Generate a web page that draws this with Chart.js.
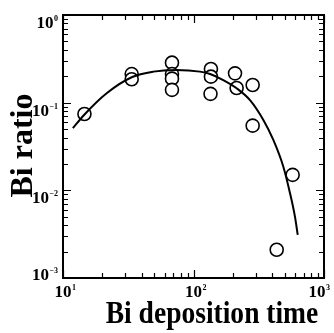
<!DOCTYPE html>
<html>
<head>
<meta charset="utf-8">
<script src="https://cdn.jsdelivr.net/npm/chart.js@4"></script>
<style>
  html, body { margin: 0; padding: 0; background: #fff; }
  canvas { display: block; }
</style>
</head>
<body>
<canvas id="my-chart" width="334" height="333"></canvas>
<script>
'use strict';

//***********Data***********
let depositionTime = [14.6, 33.6, 33.6, 68.4, 68.4, 68.4, 68.4, 136, 136, 135, 208, 214, 284, 284, 575, 434];
let biRatio = [0.0743, 0.212, 0.185, 0.286, 0.212, 0.188, 0.140, 0.242, 0.198, 0.126, 0.216, 0.147, 0.159, 0.0547, 0.015, 0.0021];

// fitted curve drawn through the points
let fitTime = [11.9, 14.5, 21.6, 33.6, 49.2, 73.4, 112, 134, 169, 214, 271, 343, 409, 488, 549, 599, 629];
let fitRatio = [0.0511, 0.0724, 0.128, 0.195, 0.226, 0.236, 0.226, 0.212, 0.181, 0.146, 0.107, 0.0635, 0.0376, 0.0186, 0.00927, 0.00501, 0.0031];

// tick labels: value and the exponent printed after "10"
let xTickValues = [10, 100, 1000];
let xTickExps = ['1', '2', '3'];
let yTickValues = [1, 0.1, 0.01, 0.001];
let yTickExps = ['0', '\u22121', '\u22122', '\u22123'];

let customerChart = document.getElementById('my-chart');
let serif = '"Liberation Serif", "Times New Roman", serif';

function toPoints(xs, ys) {
  let pts = [];
  for (let i = 0; i < xs.length; i++) {
    pts.push({ x: xs[i], y: ys[i] });
  }
  return pts;
}

// draws "10" with a small exponent, x is the left edge
function drawPower(ctx, exp, x, baseline) {
  ctx.font = 'bold 17px ' + serif;
  ctx.textAlign = 'left';
  ctx.textBaseline = 'alphabetic';
  ctx.fillText('10', x, baseline);
  let w = ctx.measureText('10').width;
  ctx.font = 'bold 8px ' + serif;
  ctx.fillText(exp, x + w + 0.5, baseline - 7);
}

function powerWidth(ctx, exp) {
  ctx.font = 'bold 17px ' + serif;
  let w = ctx.measureText('10').width;
  ctx.font = 'bold 8px ' + serif;
  return { digits: w, total: w + 0.5 + ctx.measureText(exp).width };
}

// frame with inward log ticks on all four sides, tick labels and axis titles
let frameAndLabels = {
  id: 'frameAndLabels',
  afterDraw(chart) {
    let ctx = chart.ctx;
    let area = chart.chartArea;
    let xs = chart.scales.x;
    let ys = chart.scales.y;
    ctx.save();
    ctx.strokeStyle = '#000';
    ctx.fillStyle = '#000';

    ctx.lineWidth = 1.2;
    ctx.beginPath();
    for (let d = 1; d <= 3; d++) {
      for (let m = 1; m <= 9; m++) {
        let v = m * Math.pow(10, d);
        if (v > xs.max) break;
        let px = Math.round(xs.getPixelForValue(v)) + 0.5;
        let len = m === 1 ? 8 : 5;
        ctx.moveTo(px, area.bottom);
        ctx.lineTo(px, area.bottom - len);
        ctx.moveTo(px, area.top);
        ctx.lineTo(px, area.top + len);
      }
    }
    for (let d = -3; d <= 0; d++) {
      for (let m = 1; m <= 9; m++) {
        let v = m * Math.pow(10, d);
        if (v > ys.max) break;
        let py = Math.round(ys.getPixelForValue(v)) + 0.5;
        let len = m === 1 ? 8 : 5;
        ctx.moveTo(area.left, py);
        ctx.lineTo(area.left + len, py);
        ctx.moveTo(area.right, py);
        ctx.lineTo(area.right - len, py);
      }
    }
    ctx.stroke();

    ctx.lineWidth = 2;
    ctx.strokeRect(area.left, area.top, area.right - area.left, area.bottom - area.top);

    // x tick labels
    for (let i = 0; i < xTickValues.length; i++) {
      let px = xs.getPixelForValue(xTickValues[i]);
      let w = powerWidth(ctx, xTickExps[i]);
      let left = px - w.digits / 2;
      if (left + w.total > 330) left = 330 - w.total;
      drawPower(ctx, xTickExps[i], left, 297);
    }
    // y tick labels
    for (let i = 0; i < yTickValues.length; i++) {
      let py = ys.getPixelForValue(yTickValues[i]) + 7;
      if (py > area.bottom - 4) py = area.bottom - 4;
      let w = powerWidth(ctx, yTickExps[i]);
      drawPower(ctx, yTickExps[i], 58 - w.total, py + 6);
    }

    // axis titles (the x title is a bit condensed in the original)
    ctx.font = 'bold 32px ' + serif;
    ctx.textAlign = 'center';
    ctx.textBaseline = 'alphabetic';
    ctx.save();
    ctx.translate(212, 323);
    ctx.scale(0.86, 1);
    ctx.fillText('Bi deposition time', 0, 0);
    ctx.restore();
    ctx.translate(32, 145.5);
    ctx.rotate(-Math.PI / 2);
    ctx.fillText('Bi ratio', 0, 0);
    ctx.restore();
  }
};

function renderChart() {
  let myChartObj = {
    type: 'scatter',
    data: {
      datasets: [
        {
          label: 'fit',
          data: toPoints(fitTime, fitRatio),
          showLine: true,
          borderColor: '#000',
          borderWidth: 2,
          pointRadius: 0,
          tension: 0.4,
          cubicInterpolationMode: 'monotone'
        },
        {
          label: 'Bi ratio',
          data: toPoints(depositionTime, biRatio),
          showLine: false,
          pointStyle: 'circle',
          pointRadius: 6.5,
          pointBackgroundColor: '#fff',
          pointBorderColor: '#000',
          pointBorderWidth: 1.6
        }
      ]
    },
    options: {
      responsive: false,
      animation: false,
      events: [],
      layout: { padding: { top: 15, right: 10, left: 0, bottom: 0 } },
      plugins: {
        legend: { display: false },
        tooltip: { enabled: false }
      },
      scales: {
        x: {
          type: 'logarithmic',
          min: 10,
          max: 1000,
          grid: { display: false },
          border: { display: false },
          ticks: { display: false },
          afterFit(scale) { scale.height = 55; }
        },
        y: {
          type: 'logarithmic',
          min: 0.001,
          max: 1,
          grid: { display: false },
          border: { display: false },
          ticks: { display: false },
          afterFit(scale) { scale.width = 63; }
        }
      }
    },
    plugins: [frameAndLabels]
  };
  new Chart(customerChart, myChartObj);
}

renderChart();
</script>
</body>
</html>
